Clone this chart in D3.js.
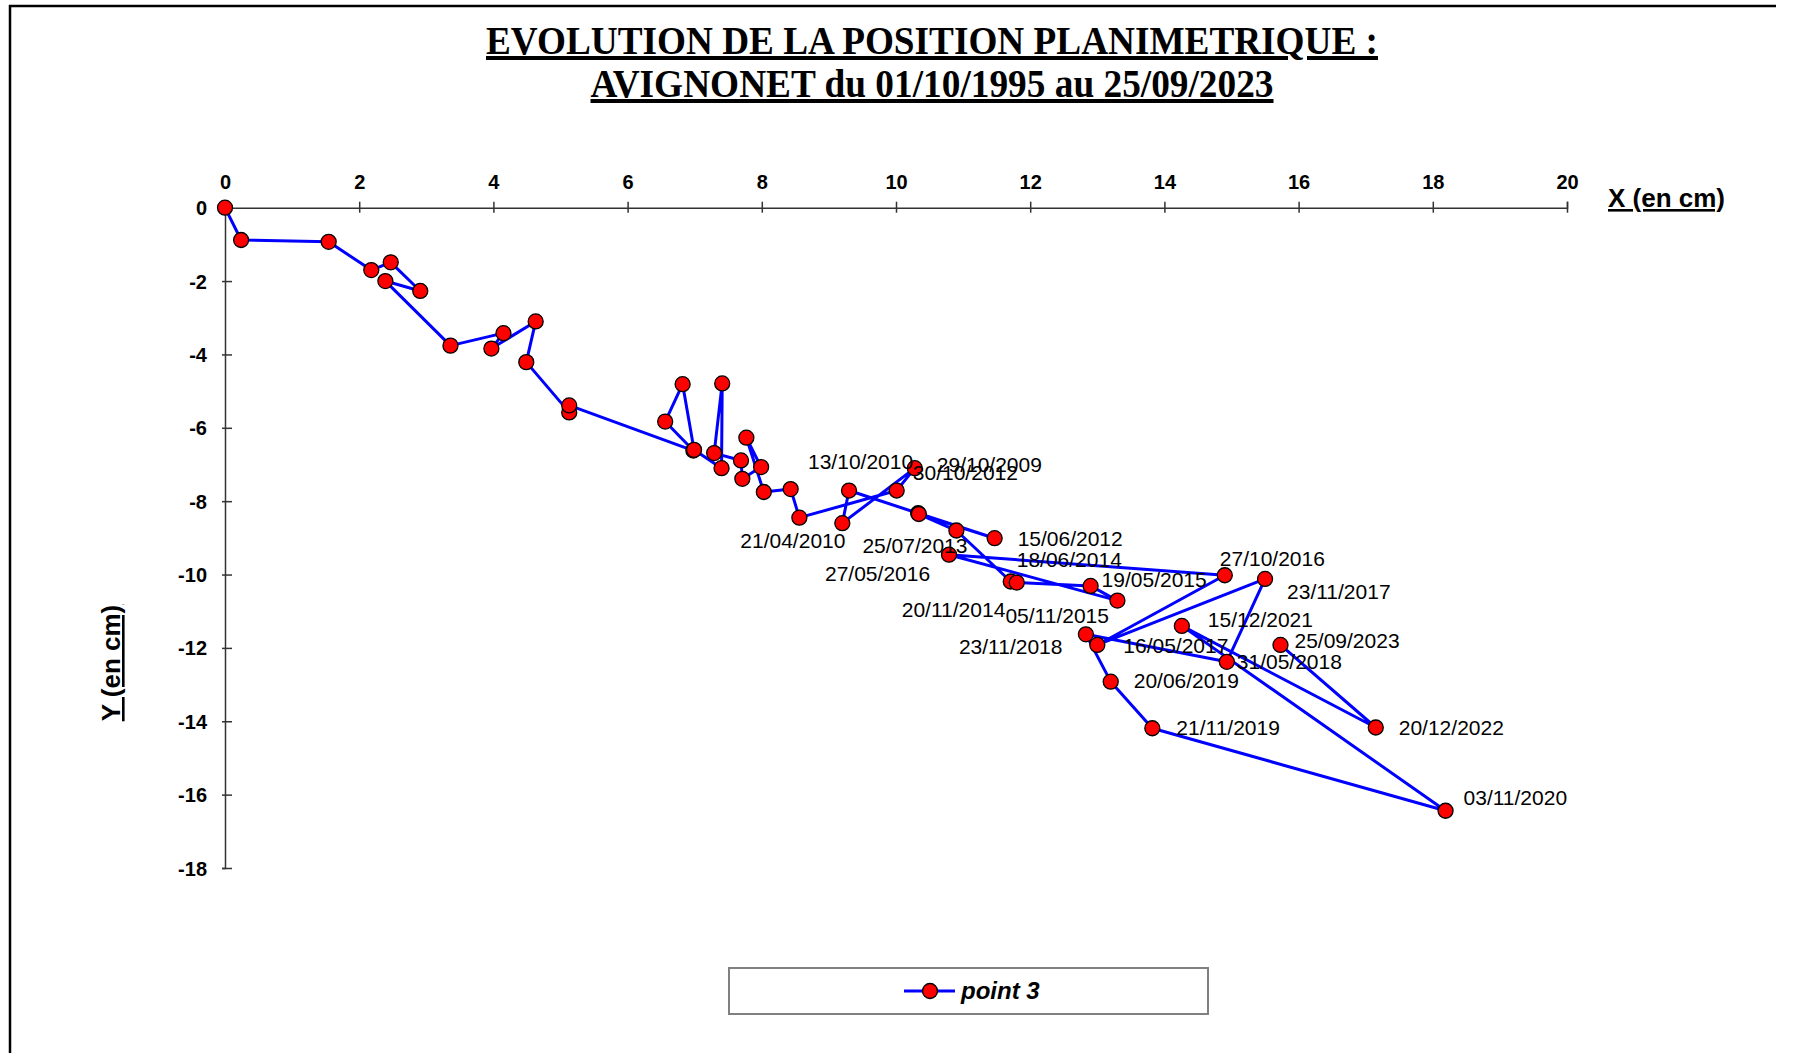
<!DOCTYPE html>
<html>
<head>
<meta charset="utf-8">
<script src="https://cdn.jsdelivr.net/npm/d3@7"></script>
<style>
  body { margin: 0; background: #fff; }
  text { font-family: "Liberation Sans", Arial, sans-serif; }
</style>
</head>
<body>
<div id="content"></div>
<script>
const w = 1794
const h = 1053

// point 3 : displacement (cm), in measurement order
const xValues = [0, 0.24, 1.545, 2.18, 2.47, 2.91, 2.39, 3.36, 4.15, 3.97,
  4.63, 4.49, 5.13, 5.13, 6.98, 6.56, 6.82, 6.99, 7.40, 7.41,
  7.29, 7.69, 7.71, 7.99, 7.77, 8.03, 8.43, 8.56, 10.01, 10.28,
  9.20, 9.30, 10.33, 11.47, 10.34, 10.90, 11.71, 11.80, 12.90, 13.30,
  10.79, 14.90, 13.00, 15.50, 14.93, 12.83, 13.20, 13.82, 18.19, 14.26,
  17.15, 15.73]
const yValues = [0, -0.88, -0.93, -1.70, -1.49, -2.27, -2.00, -3.76, -3.42, -3.84,
  -3.10, -4.21, -5.58, -5.39, -6.62, -5.83, -4.81, -6.60, -7.10, -4.79,
  -6.69, -6.89, -7.39, -7.07, -6.27, -7.75, -7.67, -8.45, -7.71, -7.10,
  -8.60, -7.71, -8.33, -9.01, -8.35, -8.80, -10.19, -10.22, -10.31, -10.71,
  -9.46, -10.02, -11.92, -10.12, -12.38, -11.63, -12.92, -14.19, -16.44, -11.40,
  -14.17, -11.92]
const dates = ["", "", "", "", "", "", "", "", "", "",
  "", "", "", "", "", "", "", "", "", "",
  "", "", "", "", "", "", "", "", "", "29/10/2009",
  "21/04/2010", "13/10/2010", "", "15/06/2012", "30/10/2012", "25/07/2013", "18/06/2014", "20/11/2014", "19/05/2015", "05/11/2015",
  "27/05/2016", "27/10/2016", "16/05/2017", "23/11/2017", "31/05/2018", "23/11/2018", "20/06/2019", "21/11/2019", "03/11/2020", "15/12/2021",
  "20/12/2022", "25/09/2023"]

const xTicks = d3.range(0, 21, 2)
const yTicks = d3.range(0, -19, -2)

// where each date label was dragged to, relative to its point (px)
const labelShift = {
  "29/10/2009": [22, 4], "21/04/2010": [-102, 25], "13/10/2010": [-41, -22],
  "15/06/2012": [23, 8], "30/10/2012": [-6, -34], "25/07/2013": [-94, 22],
  "18/06/2014": [6, -15], "20/11/2014": [-115, 34], "19/05/2015": [11, 1],
  "05/11/2015": [-112, 22], "27/05/2016": [-124, 26], "27/10/2016": [-5, -9],
  "16/05/2017": [26, 8], "23/11/2017": [22, 20], "31/05/2018": [10, 7],
  "23/11/2018": [-127, 20], "20/06/2019": [23, 6], "21/11/2019": [24, 7],
  "03/11/2020": [18, -6], "15/12/2021": [26, 1], "20/12/2022": [23, 7],
  "25/09/2023": [14, 3]
}

const dataset = xValues.map((v, i) => ({ x: v, y: yValues[i], date: dates[i] }))

let svg = d3.select("#content")
  .append("svg")
  .attr("width", w)
  .attr("height", h)

// frame
svg.append("path")
  .attr("d", "M10," + h + "V6H1776")
  .attr("fill", "none")
  .attr("stroke", "#000")
  .attr("stroke-width", 2.5)

// title
const title = svg.append("g")
  .attr("font-weight", "bold")
  .attr("font-size", 40)
  .attr("text-anchor", "middle")
  .style("text-decoration", "underline")
title.append("text").attr("x", 932).attr("y", 54)
  .attr("textLength", 892).attr("lengthAdjust", "spacingAndGlyphs")
  .style("font-family", "'Liberation Serif', serif")
  .text("EVOLUTION DE LA POSITION PLANIMETRIQUE :")
title.append("text").attr("x", 932).attr("y", 97)
  .attr("textLength", 683).attr("lengthAdjust", "spacingAndGlyphs")
  .style("font-family", "'Liberation Serif', serif")
  .text("AVIGNONET du 01/10/1995 au 25/09/2023")

const x = d3.scaleLinear().domain([0, 20]).range([225, 1567])
const y = d3.scaleLinear().domain([0, -18]).range([207.7, 868])

// axes
const gx = svg.append("g")
  .attr("transform", "translate(0," + y(0) + ")")
  .call(d3.axisTop(x).tickValues(xTicks).tickFormat(d => String(d)).tickSizeOuter(0).tickSize(6))
gx.select(".domain").attr("stroke", "#333").attr("stroke-width", 1.5)
gx.selectAll(".tick line").attr("stroke", "#333").attr("stroke-width", 1.5).attr("y1", 5).attr("y2", -6)
gx.selectAll(".tick text").attr("y", -19).attr("dy", 0)
  .attr("font-size", 20).attr("font-weight", "bold").attr("fill", "#000")
  .style("font-family", "'Liberation Sans', Arial, sans-serif")

const gy = svg.append("g")
  .attr("transform", "translate(" + x(0) + ",0)")
  .call(d3.axisLeft(y).tickValues(yTicks).tickFormat(d => String(d)).tickSizeOuter(0).tickSize(3))
gy.select(".domain").attr("stroke", "#333").attr("stroke-width", 1.5)
gy.selectAll(".tick line").attr("stroke", "#333").attr("stroke-width", 1.5).attr("x1", 7).attr("x2", -3)
gy.selectAll(".tick text").attr("x", -18).attr("dy", "0.35em")
  .attr("font-size", 20).attr("font-weight", "bold").attr("fill", "#000")
  .style("font-family", "'Liberation Sans', Arial, sans-serif")

svg.append("text")
  .attr("x", 1608).attr("y", 207)
  .attr("font-size", 26).attr("font-weight", "bold")
  .style("text-decoration", "underline")
  .text("X (en cm)")

svg.append("text")
  .attr("transform", "translate(120,663) rotate(-90)")
  .attr("text-anchor", "middle")
  .attr("font-size", 26).attr("font-weight", "bold")
  .style("text-decoration", "underline")
  .text("Y (en cm)")

// series
const line = d3.line().x(d => x(d.x)).y(d => y(d.y))
svg.append("path")
  .datum(dataset)
  .attr("d", line)
  .attr("fill", "none")
  .attr("stroke", "#0000ff")
  .attr("stroke-width", 3)
  .attr("stroke-linejoin", "round")

svg.selectAll("circle.pt")
  .data(dataset)
  .enter()
  .append("circle")
    .attr("class", "pt")
    .attr("cx", d => x(d.x))
    .attr("cy", d => y(d.y))
    .attr("r", 7.5)
    .attr("fill", "#ff0000")
    .attr("stroke", "#000")
    .attr("stroke-width", 1.3)

svg.selectAll("text.lbl")
  .data(dataset.filter(d => d.date !== ""))
  .enter()
  .append("text")
    .attr("class", "lbl")
    .attr("x", d => x(d.x) + labelShift[d.date][0])
    .attr("y", d => y(d.y) + labelShift[d.date][1])
    .attr("font-size", 21)
    .attr("fill", "#000")
    .text(d => d.date)

// legend
const lg = svg.append("g")
lg.append("rect")
  .attr("x", 729).attr("y", 968).attr("width", 479).attr("height", 46)
  .attr("fill", "#fff").attr("stroke", "#808080").attr("stroke-width", 2)
lg.append("line")
  .attr("x1", 904).attr("x2", 955).attr("y1", 991).attr("y2", 991)
  .attr("stroke", "#0000ff").attr("stroke-width", 3)
lg.append("circle")
  .attr("cx", 930).attr("cy", 991).attr("r", 7.5)
  .attr("fill", "#ff0000").attr("stroke", "#000").attr("stroke-width", 1.3)
lg.append("text")
  .attr("x", 961).attr("y", 999)
  .attr("font-size", 24).attr("font-weight", "bold").attr("font-style", "italic")
  .text("point 3")
</script>
</body>
</html>
